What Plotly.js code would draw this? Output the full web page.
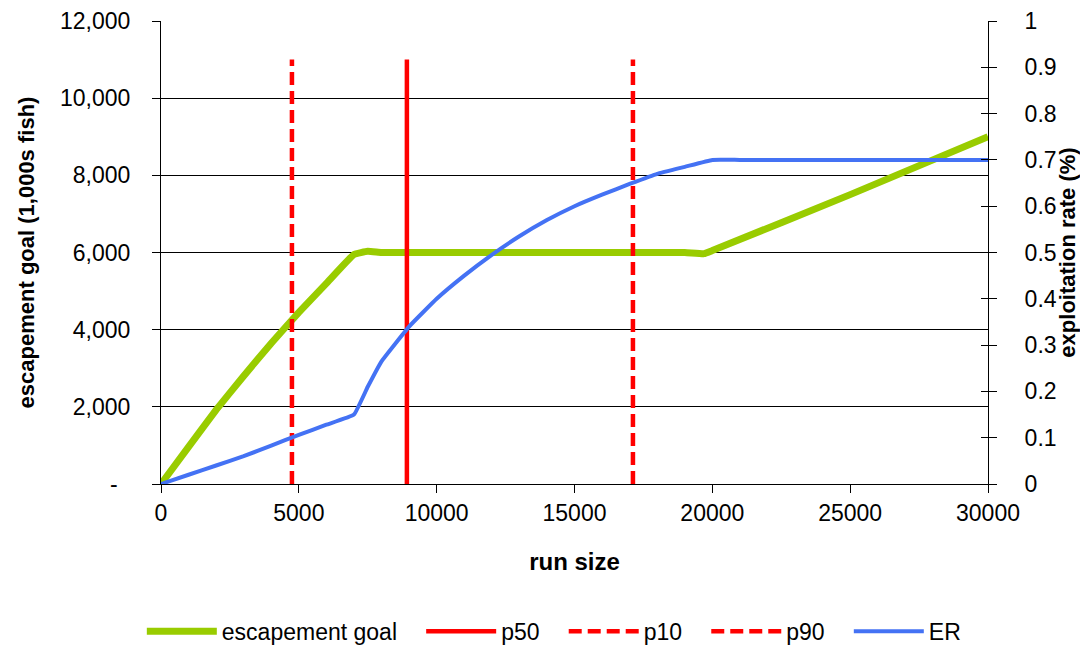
<!DOCTYPE html>
<html><head><meta charset="utf-8">
<script src="https://cdn.plot.ly/plotly-3.0.1.min.js"></script>
<style>body{margin:0;background:#fff}#c{width:1080px;height:648px}</style>
</head><body><div id="c"></div>
<script>
// Escapement goal (1,000s fish) by run size
const goalRun = [0, 1000, 2000, 3000, 4000, 5000, 6000, 7000, 7500, 8000, 10000, 15000, 19000, 19700, 20000, 25000, 30000];
const goalVal = [0, 960, 1920, 2800, 3650, 4450, 5200, 5950, 6030, 6000, 6000, 6000, 6000, 5970, 6050, 7500, 9000];
// Exploitation rate by run size
const erRun = [0, 1000, 2000, 3000, 4000, 5000, 6000, 7000, 7500, 8000, 9000, 10000, 11000, 12000, 13000, 14000, 15000, 16000, 17000, 18000, 19000, 20000, 21000, 25000, 30000];
const erVal = [0, 0.02, 0.04, 0.06, 0.083, 0.106, 0.128, 0.15, 0.21, 0.265, 0.34, 0.4, 0.45, 0.495, 0.535, 0.57, 0.6, 0.625, 0.648, 0.67, 0.685, 0.7, 0.7, 0.7, 0.7];
// Run size percentiles
const pNames = ['p50', 'p10', 'p90'];
const pRun = [8920, 4750, 17120];
const pLineTop = 11000;
const leftTickVals = [0, 2000, 4000, 6000, 8000, 10000, 12000];
const leftTickText = ['-\u00a0\u00a0', '2,000', '4,000', '6,000', '8,000', '10,000', '12,000'];
const rightTickVals = [0, 0.1, 0.2, 0.3, 0.4, 0.5, 0.6, 0.7, 0.8, 0.9, 1];
const rightTickText = ['0', '0.1', '0.2', '0.3', '0.4', '0.5', '0.6', '0.7', '0.8', '0.9', '1'];
const xTickVals = [0, 5000, 10000, 15000, 20000, 25000, 30000];

const font = 'Liberation Sans, Arial, sans-serif';
const pad = '\u00a0\u00a0\u00a0';
const traces = [
  {x: goalRun, y: goalVal, name: 'escapement goal' + pad, mode: 'lines', line: {color: '#99CC00', width: 7, shape: 'spline', smoothing: 0.3}, yaxis: 'y'}
];
pNames.forEach((n, i) => {
  traces.push({x: [pRun[i], pRun[i]], y: [0, pLineTop], name: n + pad, mode: 'lines',
    line: {color: '#FF0000', width: 4.5, dash: n === 'p50' ? 'solid' : '13px,6px'}, yaxis: 'y'});
});
traces.push({x: erRun, y: erVal, name: 'ER', mode: 'lines', line: {color: '#4472F4', width: 4, shape: 'spline', smoothing: 0.3}, yaxis: 'y2'});
// empty trace so the inner tick marks of the right axis are drawn
traces.push({x: [], y: [], yaxis: 'y3', mode: 'lines', showlegend: false, hoverinfo: 'skip'});

const layout = {
  width: 1080, height: 648,
  margin: {l: 161, r: 92, t: 21, b: 164, autoexpand: false},
  paper_bgcolor: '#fff', plot_bgcolor: '#fff',
  font: {family: font, size: 23, color: '#000'},
  showlegend: true,
  legend: {orientation: 'h', x: 0.475, xanchor: 'center', y: -0.318, yanchor: 'middle', font: {size: 23}, traceorder: 'normal', itemwidth: 70},
  xaxis: {range: [0, 30000], tickvals: xTickVals, ticktext: xTickVals.map(String), showgrid: false, zeroline: false,
    showline: true, linecolor: '#000', linewidth: 1, ticks: 'outside', ticklen: 8, tickcolor: '#000', ticklabelstandoff: 0,
    tickfont: {size: 23},
    title: {text: '<b>run size</b>', font: {size: 24}, standoff: 28}},
  yaxis: {range: [0, 12000], tickvals: leftTickVals, ticktext: leftTickText, showgrid: true, gridcolor: '#000', gridwidth: 1,
    zeroline: false, showline: true, linecolor: '#000', linewidth: 1, ticks: 'outside', ticklen: 8, tickcolor: '#000',
    ticklabelstandoff: 17, tickfont: {size: 23},
    title: {text: '<b>escapement goal (1,000s fish)</b>', font: {size: 22}, standoff: 19}},
  yaxis2: {range: [0, 1], overlaying: 'y', side: 'right', tickvals: rightTickVals, ticktext: rightTickText, showgrid: false,
    zeroline: false, showline: true, linecolor: '#000', linewidth: 1, ticks: 'outside', ticklen: 8, tickcolor: '#000',
    ticklabelstandoff: 23, tickfont: {size: 23},
    title: {text: '<b>exploitation rate (%)</b>', font: {size: 22}, standoff: 3}},
  yaxis3: {range: [0, 1], overlaying: 'y', side: 'right', tickvals: rightTickVals, showticklabels: false, showgrid: false,
    zeroline: false, showline: false, ticks: 'inside', ticklen: 7, tickcolor: '#000'}
};
Plotly.newPlot('c', traces, layout, {displayModeBar: false, staticPlot: true});
</script></body></html>
